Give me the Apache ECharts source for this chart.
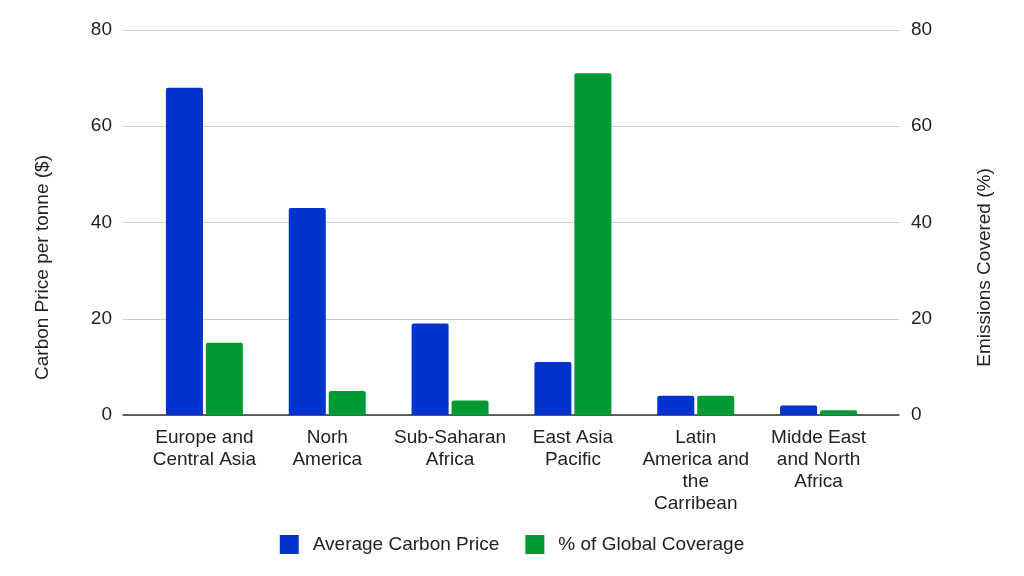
<!DOCTYPE html>
<html>
<head>
<meta charset="utf-8">
<title>Carbon price and coverage by region</title>
<script src="https://cdn.jsdelivr.net/npm/echarts@6/dist/echarts.min.js"></script>
<style>
  html, body { margin: 0; padding: 0; background: #fff; }
  #chart { width: 1024px; height: 576px; }
</style>
</head>
<body>
<div id="chart"></div>
<script>
const regions = [
  'Europe and\nCentral Asia',
  'Norh\nAmerica',
  'Sub-Saharan\nAfrica',
  'East Asia\nPacific',
  'Latin\nAmerica and\nthe\nCarribean',
  'Midde East\nand North\nAfrica'
];
const avgCarbonPrice = [68, 43, 19, 11, 4, 2];
const globalCoverage = [15, 5, 3, 71, 4, 1];

const font = 'Liberation Sans, Arial, sans-serif';
const textColor = '#222';
const fs = 19;

const chart = echarts.init(document.getElementById('chart'));

const option = {
  backgroundColor: '#fff',
  textStyle: { fontFamily: font },
  legend: {
    bottom: 17,
    left: 'center',
    icon: 'rect',
    itemWidth: 19,
    itemHeight: 19,
    itemGap: 26,
    textStyle: { fontSize: fs, color: textColor, fontFamily: font, padding: [0, 0, 0, 9] },
    data: ['Average Carbon Price', '% of Global Coverage']
  },
  grid: [
    // background grid: gridlines, baseline and value labels
    { left: 123, right: 125, top: 30, bottom: 161 },
    // inner grid where the bars sit (categories are inset from the gridlines)
    { left: 143, right: 144, top: 30, bottom: 161 }
  ],
  xAxis: [
    {
      type: 'category',
      gridIndex: 0,
      data: regions,
      axisLine: { lineStyle: { color: '#333', width: 1.5 } },
      axisTick: { show: false },
      axisLabel: { show: false }
    },
    {
      type: 'category',
      gridIndex: 1,
      data: regions,
      axisLine: { show: false },
      axisTick: { show: false },
      axisLabel: {
        color: textColor,
        fontSize: fs,
        lineHeight: 22,
        margin: 12,
        interval: 0,
        fontFamily: font
      }
    }
  ],
  yAxis: [
    {
      type: 'value',
      gridIndex: 0,
      min: 0, max: 80, interval: 20,
      name: 'Carbon Price per tonne ($)',
      nameLocation: 'middle',
      nameGap: 71,
      nameTextStyle: { color: textColor, fontSize: fs, fontFamily: font, padding: [0, 90, 0, 0] },
      axisLine: { show: false },
      axisTick: { show: false },
      axisLabel: { color: textColor, fontSize: fs, margin: 11, fontFamily: font },
      splitLine: { lineStyle: { color: '#cccccc', width: 1 } }
    },
    {
      type: 'value',
      gridIndex: 0,
      position: 'right',
      min: 0, max: 80, interval: 20,
      name: 'Emissions Covered (%)',
      nameLocation: 'middle',
      nameGap: 76,
      nameRotate: 90,
      nameTextStyle: { color: textColor, fontSize: fs, fontFamily: font, padding: [0, 90, 0, 0] },
      axisLine: { show: false },
      axisTick: { show: false },
      axisLabel: { color: textColor, fontSize: fs, margin: 12, fontFamily: font },
      splitLine: { show: false }
    },
    {
      type: 'value', gridIndex: 1, min: 0, max: 80, interval: 20, show: false,
      splitLine: { show: false }
    },
    {
      type: 'value', gridIndex: 1, min: 0, max: 80, interval: 20, show: false,
      position: 'right', splitLine: { show: false }
    }
  ],
  series: [
    {
      name: 'Average Carbon Price',
      type: 'bar',
      xAxisIndex: 1,
      yAxisIndex: 2,
      data: avgCarbonPrice,
      barWidth: 37,
      barGap: '8%',
      itemStyle: { color: '#0033cc', borderRadius: [2, 2, 0, 0] }
    },
    {
      name: '% of Global Coverage',
      type: 'bar',
      xAxisIndex: 1,
      yAxisIndex: 3,
      data: globalCoverage,
      barWidth: 37,
      barGap: '8%',
      itemStyle: { color: '#009933', borderRadius: [2, 2, 0, 0] }
    }
  ]
};

chart.setOption(option);
</script>
</body>
</html>
